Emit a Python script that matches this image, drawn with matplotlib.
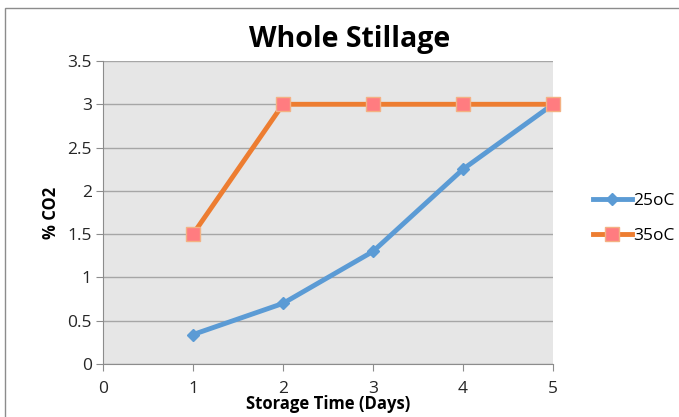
import matplotlib.pyplot as plt
from matplotlib.patches import Rectangle

# data
days = [1, 2, 3, 4, 5]
co2_25 = [0.34, 0.70, 1.30, 2.25, 3.0]
co2_35 = [1.5, 3.0, 3.0, 3.0, 3.0]
labels = ['25oC', '35oC']
x_ticks = [0, 1, 2, 3, 4, 5]
y_ticks = [0, 0.5, 1, 1.5, 2, 2.5, 3, 3.5]
y_tick_labels = ['0', '0.5', '1', '1.5', '2', '2.5', '3', '3.5']

plt.rcParams['font.family'] = ['Open Sans', 'DejaVu Sans']

fig = plt.figure(figsize=(6.79, 4.17), dpi=100)
ax = fig.add_axes([103 / 679, 1 - 364 / 417, 450 / 679, 303 / 417])
ax.set_facecolor('#e6e6e6')

ax.plot(days, co2_25, color='#5b9bd5', lw=3.5, marker='D', ms=6,
        mfc='#5b9bd5', mec='#5b9bd5', label=labels[0], zorder=3, clip_on=False)
ax.plot(days, co2_35, color='#ed7d31', lw=3.5, marker='s', ms=10,
        mfc='#ff7c80', mec='#f4b183', mew=1, label=labels[1], zorder=3,
        clip_on=False)

ax.set_xlim(0, 5)
ax.set_ylim(0, 3.5)
ax.set_xticks(x_ticks)
ax.set_yticks(y_ticks)
ax.set_yticklabels(y_tick_labels)
ax.yaxis.grid(True, color='#a6a6a6', lw=1)
ax.set_axisbelow(True)
for s in ['top', 'right']:
    ax.spines[s].set_visible(False)
for s in ['left', 'bottom']:
    ax.spines[s].set_color('#8c8c8c')
ax.tick_params(direction='out', length=5, color='#8c8c8c', labelsize=12.5,
               labelcolor='#262626', pad=3)
ax.tick_params(axis='x', pad=7)

ax.set_xlabel('Storage Time (Days)', fontsize=12, fontweight='bold', labelpad=-1)
ax.set_ylabel('% CO2', fontsize=12, fontweight='bold', labelpad=5)
fig.text(350 / 679, 1 - 40 / 417, 'Whole Stillage', ha='center', va='center',
         fontsize=20.5, fontweight='bold')

ax.legend(loc='center left', bbox_to_anchor=(1.055, 0.48), frameon=False,
          fontsize=12.5, handlelength=2.2, labelspacing=1.1, handletextpad=0.1)

# outer chart border
fig.add_artist(Rectangle((5 / 679, -0.1), 1.0, 1 - 8 / 417 + 0.1,
                         transform=fig.transFigure, fill=False,
                         ec='#8c8c8c', lw=1))

fig.savefig('out.png', dpi=100)
